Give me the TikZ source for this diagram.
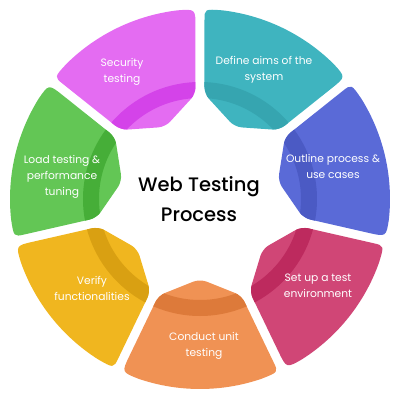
\documentclass[tikz,border=0pt]{standalone}
\usepackage{fontspec}
\setmainfont{Poppins}
\newfontfamily\titlefont{Poppins Medium}
\usetikzlibrary{calc}
\definecolor{secur}{HTML}{E46CF2}
\definecolor{securdk}{HTML}{D443E9}
\definecolor{aims}{HTML}{3FB4BF}
\definecolor{aimsdk}{HTML}{36A5B0}
\definecolor{outline}{HTML}{5A6AD7}
\definecolor{outlinedk}{HTML}{4B5AC4}
\definecolor{setup}{HTML}{D04676}
\definecolor{setupdk}{HTML}{BD2A5E}
\definecolor{unit}{HTML}{F09254}
\definecolor{unitdk}{HTML}{DD7A3A}
\definecolor{verify}{HTML}{F0B61F}
\definecolor{verifydk}{HTML}{D9A012}
\definecolor{load}{HTML}{63C655}
\definecolor{loaddk}{HTML}{46AE38}

\begin{document}
\begin{tikzpicture}[
  x=1pt, y=1pt,
  lbl/.style={text=white, align=center, font=\fontsize{10.7}{16}\selectfont},
  title/.style={align=center, font=\titlefont\fontsize{19.5}{30}\selectfont},
]
  \useasboundingbox (-200,-201) rectangle (200,199);
  % ring geometry
  \def\ra{80pt}   % inner tip
  \def\ri{105pt}  % inner corners
  \def\R{190pt}   % outer edge
  \def\Rc{172pt}  % start of outer rounding
  \def\g{4.5pt}   % half gap
  \pgfmathsetmacro{\dd}{(4.5+18)/190*57.296}
  \foreach \t/\fc/\dc in {115.714/secur/securdk, 64.286/aims/aimsdk,
      12.857/outline/outlinedk, -38.571/setup/setupdk, -90/unit/unitdk,
      -141.429/verify/verifydk, -192.857/load/loaddk} {
    \pgfmathsetmacro{\ap}{\t+25.714}
    \pgfmathsetmacro{\am}{\t-25.714}
    \pgfmathsetmacro{\bs}{\ap-\dd}
    \pgfmathsetmacro{\be}{\am+\dd}
    \def\seg{(\t:\ra) -- ($(\ap:\ri)+(\ap-90:\g)$) -- ($(\ap:\Rc)+(\ap-90:\g)$)
      [sharp corners] .. controls ($(\ap:\R)+(\ap-90:\g)$) .. (\bs:\R)
      arc[start angle=\bs, end angle=\be, radius=\R]
      .. controls ($(\am:\R)+(\am+90:\g)$) .. ($(\am:\Rc)+(\am+90:\g)$)
      [rounded corners=7pt] -- ($(\am:\ri)+(\am+90:\g)$) -- cycle}
    \fill[\fc, rounded corners=7pt] \seg;
    \begin{scope}
      \clip[rounded corners=7pt] \seg;
      \fill[\dc, even odd rule] (0,0) circle[radius=117pt] (0,0) circle[radius=101pt];
    \end{scope}
  }
  % labels
  \node[lbl] (security) at (-78,127) {Security\\testing};
  \node[lbl] (aims) at (64,129) {Define aims of the\\system};
  \node[lbl] (outline) at (133,33) {Outline process \&\\use cases};
  \node[lbl] (setup) at (118,-87) {Set up a test\\environment};
  \node[lbl] (unit) at (4,-147) {Conduct unit\\testing};
  \node[lbl] (verify) at (-108,-89) {Verify\\functionalities};
  \node[lbl] (load) at (-138,22) {Load testing \&\\performance\\tuning};
  \node[title] (process) at (-1,0) {Web Testing\\Process};
\end{tikzpicture}
\end{document}
